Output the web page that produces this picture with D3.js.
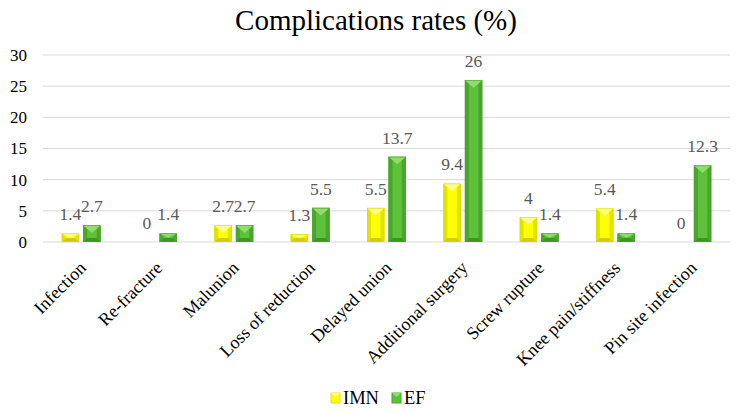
<!DOCTYPE html>
<html><head><meta charset="utf-8">
<script src="https://cdn.jsdelivr.net/npm/d3@7"></script>
<style>body{margin:0;background:#fff}svg{display:block}</style>
</head><body><svg id="c" width="744" height="413"></svg>
<script>
const categories = ["Infection","Re-fracture","Malunion","Loss of reduction","Delayed union","Additional surgery","Screw rupture","Knee pain/stiffness","Pin site infection"];
const seriesNames = ["IMN","EF"];
const imn = [1.4, 0, 2.7, 1.3, 5.5, 9.4, 4, 5.4, 0];
const ef = [2.7, 1.4, 2.7, 5.5, 13.7, 26, 1.4, 1.4, 12.3];
const yTicks = [0,5,10,15,20,25,30];

const font = "'Liberation Serif','DejaVu Serif',serif";
const svg = d3.select("#c");
const m = {l:43, r:14, t:55, b:171};
const W = 744, H = 413;
const x = d3.scaleBand().domain(categories).range([m.l, W-m.r]).paddingInner(0).paddingOuter(0);
const y = d3.scaleLinear().domain([0,30]).range([H-m.b, m.t]);
const x1 = d3.scaleBand().domain(seriesNames).range([0, x.bandwidth()]).paddingInner(0.186).paddingOuter(0.87);

const colors = {
  IMN:{mid:"#FFFF00", side:"#E3E300", top:"#FFFF8A", bot:"#CFCF00", edge:"#D9D900"},
  EF:{mid:"#5EC13A", side:"#49A52B", top:"#93DB6E", bot:"#3F9524", edge:"#4FA431"}
};

svg.append("text").attr("x",376).attr("y",30).attr("text-anchor","middle")
  .attr("font-family",font).attr("font-size",29).attr("fill","#000").text("Complications rates (%)");

svg.append("g").selectAll("line").data(yTicks).join("line")
  .attr("x1",m.l).attr("x2",W-m.r).attr("y1",d=>y(d)).attr("y2",d=>y(d))
  .attr("stroke","#d9d9d9").attr("stroke-width",1);

const yAxis = d3.axisLeft(y).tickValues(yTicks).tickSize(0).tickPadding(0);
const ya = svg.append("g").attr("transform",`translate(${m.l-16},0)`).call(yAxis);
ya.select(".domain").remove();
ya.selectAll("text").attr("font-family",font).attr("font-size",17).attr("fill","#000").attr("text-anchor","end");

const xAxis = d3.axisBottom(x).tickSize(0).tickPadding(0);
const xa = svg.append("g").attr("transform",`translate(0,${y(0)})`).call(xAxis);
xa.select(".domain").remove();
xa.selectAll("text").attr("font-family",font).attr("font-size",18).attr("fill","#000")
  .attr("text-anchor","end").attr("dy",0).attr("y",0)
  .attr("transform","translate(6,27) rotate(-45)");

const data = [];
categories.forEach((c,i)=>{
  data.push({c, s:"IMN", v:imn[i]});
  data.push({c, s:"EF", v:ef[i]});
});

const g = svg.append("g");
data.forEach(d=>{
  const x0 = x(d.c)+x1(d.s), w = x1.bandwidth(), yt = y(d.v), yb = y(0), h = yb-yt;
  const col = colors[d.s];
  if (h > 0) {
    const bev = Math.min(4, w/2, h/2);
    const bg = g.append("g");
    bg.append("rect").attr("x",x0).attr("y",yt).attr("width",w).attr("height",h).attr("fill",col.mid);
    bg.append("polygon").attr("points",[[x0,yt],[x0+bev,yt+bev],[x0+bev,yb-bev],[x0,yb]].join(" ")).attr("fill",col.side);
    bg.append("polygon").attr("points",[[x0+w,yt],[x0+w-bev,yt+bev],[x0+w-bev,yb-bev],[x0+w,yb]].join(" ")).attr("fill",col.side);
    const th = Math.min(w/2 - 1, h*0.5);
    bg.append("polygon").attr("points",[[x0,yt],[x0+w,yt],[x0+w/2,yt+th]].join(" ")).attr("fill",col.top);
    bg.append("polygon").attr("points",[[x0,yb],[x0+w,yb],[x0+w-bev,yb-bev],[x0+bev,yb-bev]].join(" ")).attr("fill",col.bot);
    bg.append("rect").attr("x",x0+0.5).attr("y",yt+0.5).attr("width",w-1).attr("height",Math.max(0,h-1)).attr("fill","none").attr("stroke",col.edge).attr("stroke-width",0.6);
  }
  g.append("text").attr("x",x0+w/2).attr("y",yt-13).attr("text-anchor","middle")
    .attr("font-family",font).attr("font-size",17.5).attr("fill","#595959").text(d.v);
});

const lg = svg.append("g");
const leg = [{s:"IMN",x:331},{s:"EF",x:392}];
leg.forEach(L=>{
  const col = colors[L.s];
  lg.append("rect").attr("x",L.x).attr("y",393).attr("width",9).attr("height",10).attr("fill",col.mid).attr("stroke",col.side).attr("stroke-width",1);
  lg.append("polygon").attr("points",[[L.x,393],[L.x+9,393],[L.x+4.5,397]].join(" ")).attr("fill",col.top);
  lg.append("text").attr("x",L.x+12).attr("y",404).attr("font-family",font).attr("font-size",18.5).attr("fill","#000").text(L.s);
});
</script></body></html>
